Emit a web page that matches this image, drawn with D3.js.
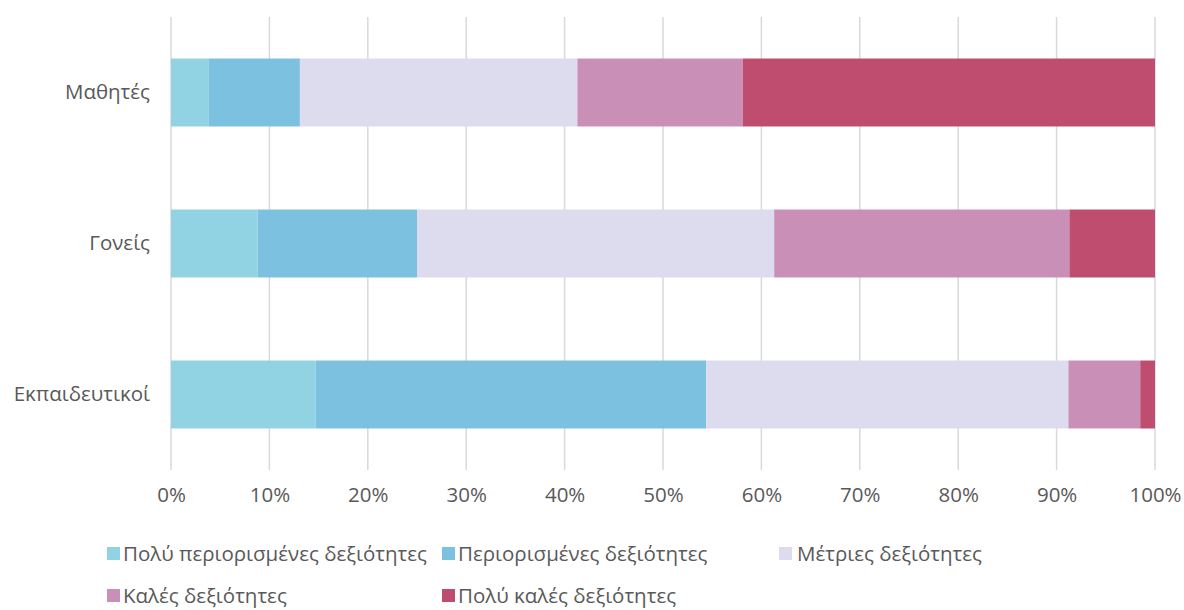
<!DOCTYPE html>
<html>
<head>
<meta charset="utf-8">
<script src="https://cdn.jsdelivr.net/npm/d3@7"></script>
<style>
  body { margin: 0; background: #fff; }
  text { font-family: "Open Sans", "Noto Sans", sans-serif; fill: #595959; }
</style>
</head>
<body>
<div class="canva"></div>
<script>
const groups = ['Μαθητές', 'Γονείς', 'Εκπαιδευτικοί']
const seriesNames = [
  'Πολύ περιορισμένες δεξιότητες',
  'Περιορισμένες δεξιότητες',
  'Μέτριες δεξιότητες',
  'Καλές δεξιότητες',
  'Πολύ καλές δεξιότητες'
]
const veryLimited = [3.8, 8.8, 14.7]
const limited = [9.3, 16.2, 39.7]
const moderate = [28.2, 36.3, 36.8]
const good = [16.8, 30.0, 7.3]
const veryGood = [41.9, 8.7, 1.5]
const tickValues = [0, 0.1, 0.2, 0.3, 0.4, 0.5, 0.6, 0.7, 0.8, 0.9, 1]
const colors = ['#92D3E3', '#7DC1E0', '#DDDCEE', '#CA8FB7', '#BE4D6F']

const width = 1184, height = 610
const margin = { top: 17, right: 29, bottom: 140, left: 171 }
const fontSize = 20.5
const fontFamily = '"Open Sans", sans-serif'

const svg = d3.select('.canva').append('svg')
  .attr('width', width)
  .attr('height', height)

const values = [veryLimited, limited, moderate, good, veryGood]
const rows = groups.map((g, i) => {
  const row = { group: g }
  seriesNames.forEach((s, j) => { row[s] = values[j][i] })
  return row
})
// normalise each row to 100%
rows.forEach(r => {
  const total = d3.sum(seriesNames, s => r[s])
  seriesNames.forEach(s => { r[s] = r[s] / total })
})

const stacked = d3.stack().keys(seriesNames)(rows)

const x = d3.scaleLinear().domain([0, 1]).range([margin.left, width - margin.right])
const y = d3.scaleBand().domain(groups)
  .range([margin.top, height - margin.bottom])
  .paddingInner(0.55).paddingOuter(0.275)

// gridlines
svg.append('g')
  .selectAll('line')
  .data(tickValues)
  .enter().append('line')
  .attr('x1', d => x(d)).attr('x2', d => x(d))
  .attr('y1', margin.top).attr('y2', height - margin.bottom)
  .attr('stroke', '#d9d9d9')
  .attr('stroke-width', 1.5)

// bars
svg.append('g')
  .selectAll('g')
  .data(stacked)
  .enter().append('g')
  .attr('fill', (d, i) => colors[i])
  .selectAll('rect')
  .data(d => d)
  .enter().append('rect')
  .attr('x', d => x(d[0]))
  .attr('width', d => x(d[1]) - x(d[0]))
  .attr('y', d => y(d.data.group))
  .attr('height', y.bandwidth())

// x axis labels
const xAxis = svg.append('g')
  .attr('transform', `translate(0,${height - margin.bottom})`)
  .call(d3.axisBottom(x).tickValues(tickValues).tickFormat(d3.format('.0%')).tickSize(0).tickPadding(17))
xAxis.select('.domain').remove()
xAxis.selectAll('text').attr('font-size', fontSize).style('font-family', fontFamily).attr('fill', '#595959')

// y axis labels
const yAxis = svg.append('g')
  .attr('transform', `translate(${margin.left},0)`)
  .call(d3.axisLeft(y).tickSize(0).tickPadding(21))
yAxis.select('.domain').remove()
yAxis.selectAll('text').attr('font-size', fontSize).style('font-family', fontFamily).attr('fill', '#595959')

// legend
const legendPos = [[107, 554], [442, 554], [779, 554], [107, 596], [442, 596]]
const legend = svg.append('g')
  .selectAll('g')
  .data(seriesNames)
  .enter().append('g')
  .attr('transform', (d, i) => `translate(${legendPos[i][0]},${legendPos[i][1]})`)

legend.append('rect')
  .attr('x', 0).attr('y', -7)
  .attr('width', 13).attr('height', 13)
  .attr('fill', (d, i) => colors[i])

legend.append('text')
  .attr('x', (d, i) => i === 2 ? 18 : 16)
  .attr('dy', '0.35em')
  .attr('font-size', fontSize)
  .text(d => d)
</script>
</body>
</html>
